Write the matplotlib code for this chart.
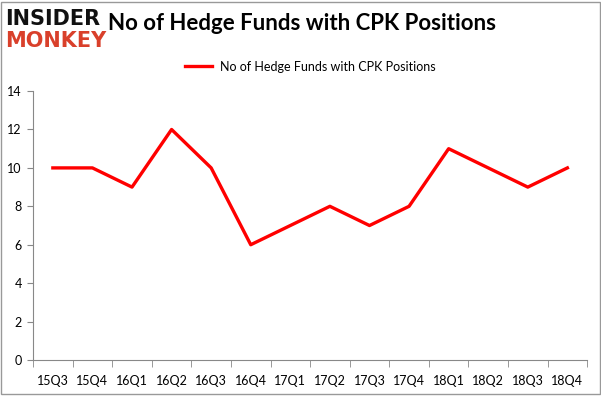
import matplotlib
matplotlib.use("Agg")
import matplotlib.pyplot as plt
from matplotlib.patches import Rectangle

# chart data
quarters = ["15Q3", "15Q4", "16Q1", "16Q2", "16Q3", "16Q4", "17Q1",
            "17Q2", "17Q3", "17Q4", "18Q1", "18Q2", "18Q3", "18Q4"]
funds = [10, 10, 9, 12, 10, 6, 7, 8, 7, 8, 11, 10, 9, 10]
y_ticks = [0, 2, 4, 6, 8, 10, 12, 14]
series_name = "No of Hedge Funds with CPK Positions"

plt.rcParams['font.family'] = ['Lato', 'DejaVu Sans']

fig = plt.figure(figsize=(6.01, 3.96), dpi=100)
ax = fig.add_axes([0.055, 0.091, 0.922, 0.679])

x = list(range(len(quarters)))
ax.plot(x, funds, color="#ff0000", linewidth=2.4, label=series_name)

ax.set_xlim(-0.5, len(quarters) - 0.5)
ax.set_ylim(0, 14)
ax.set_yticks(y_ticks)
ax.set_xticks(x)
ax.set_xticklabels(quarters)
ax.set_xticks([i - 0.5 for i in range(len(quarters) + 1)], minor=True)
ax.tick_params(axis="x", which="major", length=0, pad=11, labelsize=9)
ax.tick_params(axis="x", which="minor", length=5, color="#888888")
ax.tick_params(axis="y", length=4, color="#888888", labelsize=9, pad=4)

for side in ["top", "right"]:
    ax.spines[side].set_visible(False)
ax.spines["left"].set_color("#888888")
ax.spines["bottom"].set_color("#888888")

ax.legend(loc="upper center", bbox_to_anchor=(0.5, 1.155), frameon=False,
          fontsize=9, handlelength=2.2, handletextpad=0.6)

fig.text(0.502, 0.94, "No of Hedge Funds with CPK Positions", ha="center",
         va="center", fontsize=16, fontweight="bold")
fig.text(0.008, 0.952, "INSIDER", ha="left", va="center", fontsize=15,
         fontweight="heavy", color="#111111", family="DejaVu Sans")
fig.text(0.008, 0.897, "MONKEY", ha="left", va="center", fontsize=15,
         fontweight="heavy", color="#d9402b", family="DejaVu Sans")

fig.patches.append(Rectangle((0.002, 0.004), 0.996, 0.992, transform=fig.transFigure,
                             fill=False, edgecolor="#999999", linewidth=1))

fig.savefig("out.png", dpi=100)
